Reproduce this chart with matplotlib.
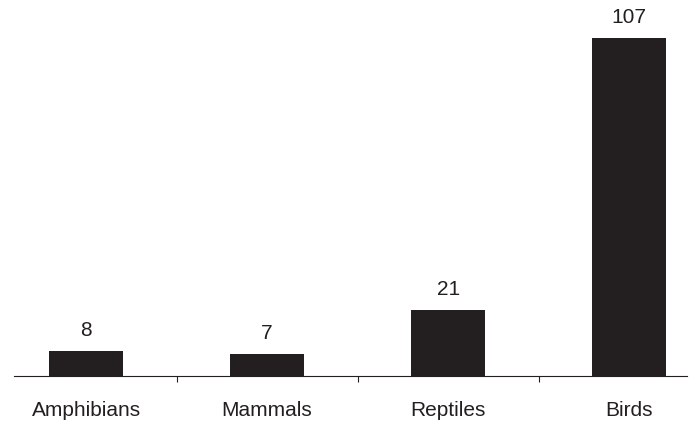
import matplotlib
matplotlib.use('Agg')
import matplotlib.pyplot as plt

#data
categories = ['Amphibians', 'Mammals', 'Reptiles', 'Birds']
counts = [8, 7, 21, 107]

plt.rcParams['font.family'] = ['Liberation Sans', 'DejaVu Sans']
bar_color = '#231f20'

fig = plt.figure(figsize=(6.93, 4.24), dpi=100)
ax = fig.add_axes([14 / 693, 48 / 424, 673 / 693, 376 / 424])

pos = list(range(len(categories)))
bars = ax.bar(pos, counts, width=0.41, color=bar_color)

#value labels above bars
for x, v in zip(pos, counts):
    ax.annotate(str(v), (x, v), xytext=(0, 8), textcoords='offset points',
                ha='center', va='bottom', fontsize=15, color='#231f20')

ax.set_xlim(-0.398, 3.32)
ax.set_ylim(0, 119)

#tick marks between categories, labels under bars
ax.set_xticks([0.5, 1.5, 2.5])
ax.set_xticklabels([])
ax.tick_params(axis='x', which='major', length=4.5, width=0.8, color='#231f20')
ax.set_xticks(pos, minor=True)
ax.set_xticklabels(categories, minor=True)
ax.tick_params(axis='x', which='minor', length=0, pad=18, labelsize=15, labelcolor='#231f20')

ax.set_yticks([])
for side in ['top', 'right', 'left']:
    ax.spines[side].set_visible(False)
ax.spines['bottom'].set_color('#231f20')
ax.spines['bottom'].set_linewidth(0.8)

fig.savefig('out.png', dpi=100)
